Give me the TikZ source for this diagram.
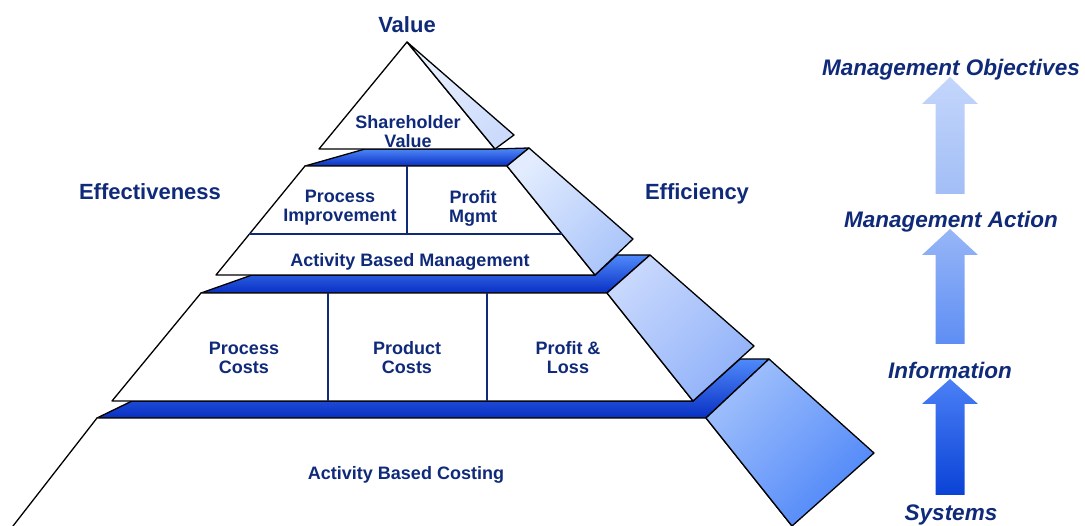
\documentclass[tikz,border=0pt]{standalone}
\usepackage{fontspec}
\setmainfont{Liberation Sans}
\usetikzlibrary{calc}

\definecolor{navy}{RGB}{16,42,122}
\definecolor{ledgeTop}{RGB}{80,138,250}
\definecolor{ledgeBot}{RGB}{8,48,196}
% side faces, light (upper left) to dark (lower right)
\definecolor{sideAl}{RGB}{234,241,255}
\definecolor{sideAd}{RGB}{204,219,252}
\definecolor{sideBl}{RGB}{226,236,254}
\definecolor{sideBd}{RGB}{172,198,250}
\definecolor{sideCl}{RGB}{200,216,253}
\definecolor{sideCd}{RGB}{145,178,249}
\definecolor{sideDl}{RGB}{160,192,252}
\definecolor{sideDd}{RGB}{78,134,248}
% block arrows, top to bottom
\definecolor{flowAt}{RGB}{196,214,251}
\definecolor{flowAb}{RGB}{162,190,246}
\definecolor{flowBt}{RGB}{151,182,247}
\definecolor{flowBb}{RGB}{94,142,244}
\definecolor{flowCt}{RGB}{75,128,246}
\definecolor{flowCb}{RGB}{10,66,214}

\tikzset{
  outline/.style={draw=black, line width=1.3pt, line join=round},
  frontface/.style={outline, fill=white},
  ledgeband/.style={outline, top color=ledgeTop, bottom color=ledgeBot},
  sideface/.style 2 args={outline, top color=#1, bottom color=#2, shading angle=45},
  divider/.style={draw=navy, line width=1.1pt},
  cell/.style={text=navy, font=\fontsize{18}{19}\selectfont\bfseries, align=center, inner sep=0pt},
  heading/.style={text=navy, font=\fontsize{22}{24}\selectfont\bfseries, inner sep=0pt},
  stage/.style={text=navy, font=\fontsize{22.5}{24}\selectfont\bfseries\itshape, inner sep=0pt},
  flow/.style 2 args={draw=none, top color=#1, bottom color=#2},
}

% block arrow pointing up: centre x, tip y, head base y, tail y, colours
\newcommand\upBlockArrow[6]{%
  \path[flow={#5}{#6}]
    (#1,#2) -- (#1+28,#3) -- (#1+14.5,#3) -- (#1+14.5,#4)
    -- (#1-14.5,#4) -- (#1-14.5,#3) -- (#1-28,#3) -- cycle;}

\begin{document}
\begin{tikzpicture}[x=1pt,y=1pt]
\useasboundingbox (0,0) rectangle (1085,-526);
\clip (0,0) rectangle (1085,-526);

% ---------- corner points of the pyramid ----------
\coordinate (apex) at (407,-42);
\coordinate (t0l) at (319,-149);
\coordinate (t0r) at (495,-149);
\coordinate (s0) at (514,-135);

\coordinate (t2tl) at (305,-166);
\coordinate (t2tr) at (507,-166);
\coordinate (t2bl) at (216,-275);
\coordinate (t2br) at (595,-275);
\coordinate (s2a) at (529,-148);
\coordinate (s2b) at (633,-239);

\coordinate (t3tl) at (201,-293);
\coordinate (t3tr) at (607,-293);
\coordinate (t3bl) at (112,-401);
\coordinate (t3br) at (693,-401);
\coordinate (s3a) at (650,-255);
\coordinate (s3b) at (754,-346);

\coordinate (t4tl) at (97,-418);
\coordinate (t4tr) at (706,-418);
\coordinate (t4bl) at (13,-526);
\coordinate (t4br) at (792,-526);
\coordinate (s4a) at (769,-359);
\coordinate (s4b) at (874,-453);

% ---------- bottom tier ----------
\path[ledgeband] (t4tl) -- (132,-401) -- (t3br) -- (740,-359) -- (s4a) -- (t4tr) -- cycle;
\path[frontface] (t4tl) -- (t4tr) -- ($(t4tr)!1.1!(t4br)$) -- ($(t4tl)!1.1!(t4bl)$) -- cycle;
\path[sideface={sideDl}{sideDd}] (t4tr) -- (s4a) -- (s4b) -- (t4br) -- cycle;

% ---------- costing tier ----------
\path[ledgeband] (t3tl) -- (252,-275) -- (t2br) -- (617,-255) -- (s3a) -- (t3tr) -- cycle;
\path[frontface] (t3tl) -- (t3tr) -- (t3br) -- (t3bl) -- cycle;
\path[sideface={sideCl}{sideCd}] (t3tr) -- (s3a) -- (s3b) -- (t3br) -- cycle;
\draw[divider] (328,-293) -- (328,-401);
\draw[divider] (487,-293) -- (487,-401);

% ---------- management tier ----------
\path[ledgeband] (t2tl) -- (365,-149) -- (t0r) -- (s2a) -- (t2tr) -- cycle;
\path[frontface] (t2tl) -- (t2tr) -- (t2br) -- (t2bl) -- cycle;
\path[sideface={sideBl}{sideBd}] (t2tr) -- (s2a) -- (s2b) -- (t2br) -- cycle;
\draw[divider] ($(t2tl)!0.624!(t2bl)$) -- ($(t2tr)!0.624!(t2br)$);
\draw[divider] (407,-166) -- (407,-234);

% ---------- apex ----------
\path[frontface] (apex) -- (t0r) -- (t0l) -- cycle;
\path[sideface={sideAl}{sideAd}] (apex) -- (s0) -- (t0r) -- cycle;

% ---------- labels on the pyramid ----------
\node[heading] (value) at (407,-24.5) {Value};
\node[heading] (effect) at (150,-192) {Effectiveness};
\node[heading] (effic) at (697,-194) {Efficiency};

\node[cell] (shv) at (408,-131.5) {Shareholder\\Value};
\node[cell] (procimp) at (340,-208) {Process\\Improvement};
\node[cell] (profmg) at (473,-208) {Profit\\Mgmt};
\node[cell] (abm) at (410,-261.5) {Activity Based Management};
\node[cell] (proccost) at (244,-358) {Process\\Costs};
\node[cell] (prodcost) at (407,-358) {Product\\Costs};
\node[cell] (pl) at (568,-358) {Profit \&\\Loss};
\node[cell] (abc) at (406,-475) {Activity Based Costing};

% ---------- stages on the right ----------
\node[stage] (objectives) at (951,-70) {Management Objectives};
\node[stage] (action) at (951,-221.5) {Management Action};
\node[stage] (info) at (950,-370.5) {Information};
\node[stage] (systems) at (951,-515) {Systems};

\upBlockArrow{950}{-77}{-104}{-194}{flowAt}{flowAb}
\upBlockArrow{950}{-229}{-255}{-344}{flowBt}{flowBb}
\upBlockArrow{950}{-379}{-404}{-495}{flowCt}{flowCb}

\end{tikzpicture}
\end{document}
